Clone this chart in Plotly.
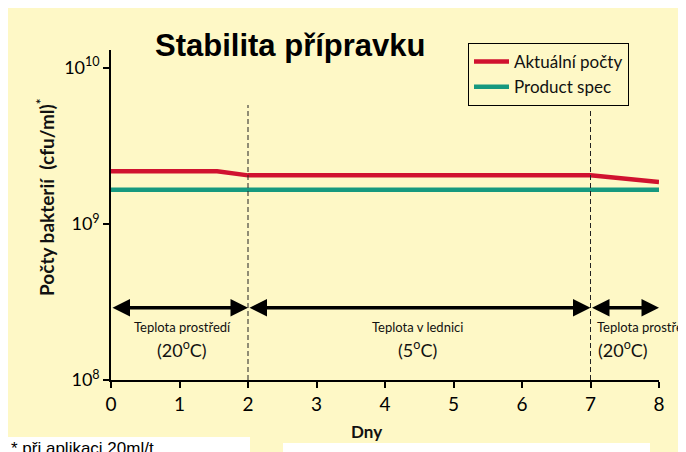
import plotly.graph_objects as go

# ---- data ----
days_actual = [0, 1.55, 2, 7, 8]
counts_actual = [2.17e9, 2.17e9, 2.04e9, 2.04e9, 1.85e9]
days_spec = [0, 8]
counts_spec = [1.65e9, 1.65e9]
x_ticks = [0, 1, 2, 3, 4, 5, 6, 7, 8]
y_tickvals = [1e8, 1e9, 1e10]
y_ticktext = ["10<sup>8</sup>", "10<sup>9</sup>", "10<sup>10</sup>"]
phase_bounds = [0, 2, 7, 8]
phase_names = ["Teplota prostředí", "Teplota v lednici", "Teplota prostředí"]
phase_temps = ["(20<sup>o</sup>C)", "(5<sup>o</sup>C)", "(20<sup>o</sup>C)"]

# page has an 8px body margin: figure occupies page pixels 8..686 x 8..452
OFF = 8
W, H = 686 - OFF, 452 - OFF
L, R, T, B = 111 - OFF, 27, 50 - OFF, 72
pw, ph = W - L - R, H - T - B

def px(xp):  # page pixel x -> paper fraction
    return (xp - OFF - L) / pw

def py(yp):  # page pixel y -> paper fraction
    return (H - B - (yp - OFF)) / ph

CREAM = "#FEF8C6"
RED = "#D0122F"
GREEN = "#16997F"
MYR = "Lato, 'Open Sans', sans-serif"

fig = go.Figure()
fig.add_trace(go.Scatter(x=days_actual, y=counts_actual, mode="lines",
                         name="Aktuální počty", line=dict(color=RED, width=4.5)))
fig.add_trace(go.Scatter(x=days_spec, y=counts_spec, mode="lines",
                         name="Product spec", line=dict(color=GREEN, width=4.5)))

shapes = [
    dict(type="rect", xref="paper", yref="paper", x0=px(0), x1=px(250),
         y0=py(437), y1=py(460), fillcolor="white", line_width=0, layer="below"),
    dict(type="rect", xref="paper", yref="paper", x0=px(283), x1=px(650),
         y0=py(443), y1=py(460), fillcolor="white", line_width=0, layer="below"),
]
for xb, top in [(phase_bounds[1], 105), (phase_bounds[2], 110)]:
    shapes.append(dict(type="line", xref="x", yref="paper", x0=xb, x1=xb,
                       y0=0, y1=py(top), line=dict(color="#222222", width=1, dash="5px,3px")))

annotations = []
arrow_y = 8.462
for i in range(3):
    annotations.append(dict(x=phase_bounds[i + 1], y=arrow_y, ax=phase_bounds[i], ay=arrow_y,
                            xref="x", yref="y", axref="x", ayref="y", text="",
                            showarrow=True, arrowhead=2, startarrowhead=2, arrowside="end+start",
                            arrowwidth=3.5, arrowsize=1, startarrowsize=1, arrowcolor="black",
                            standoff=0, startstandoff=0))
name_pos = [(182, "center"), (417, "center"), (595, "left")]
temp_pos = [182, 417, 623]
for i in range(3):
    xp, anc = name_pos[i]
    annotations.append(dict(x=px(xp), y=py(327), xref="paper", yref="paper", text=phase_names[i],
                            showarrow=False, xanchor=anc, yanchor="middle",
                            font=dict(family=MYR, size=13, color="#111111")))
    annotations.append(dict(x=px(temp_pos[i]), y=py(349), xref="paper", yref="paper",
                            text=phase_temps[i], showarrow=False, xanchor="center", yanchor="middle",
                            font=dict(family=MYR, size=18, color="#111111")))

annotations.append(dict(x=px(290), y=py(45), xref="paper", yref="paper",
                        text="<b>Stabilita přípravku</b>", showarrow=False,
                        xanchor="center", yanchor="middle",
                        font=dict(family="Liberation Sans, Arial", size=31, color="black")))
annotations.append(dict(x=px(45), y=py(198), xref="paper", yref="paper", textangle=-90,
                        text="<b>Počty bakterií  (cfu/ml)<sup>*</sup></b>", showarrow=False,
                        xanchor="center", yanchor="middle",
                        font=dict(family=MYR, size=19, color="#111111")))
annotations.append(dict(x=px(366), y=py(432), xref="paper", yref="paper",
                        text="<b>Dny</b>", showarrow=False, xanchor="center", yanchor="middle",
                        font=dict(family=MYR, size=17, color="#111111")))
annotations.append(dict(x=px(9), y=py(437), xref="paper", yref="paper",
                        text="* při aplikaci 20ml/t", showarrow=False, xanchor="left", yanchor="top",
                        font=dict(family="Liberation Sans, Arial", size=17, color="black")))

fig.update_layout(
    width=W, height=H,
    margin=dict(l=L, r=R, t=T, b=B, pad=0),
    paper_bgcolor=CREAM, plot_bgcolor="rgba(0,0,0,0)",
    shapes=shapes, annotations=annotations,
    showlegend=True,
    legend=dict(x=px(468), y=py(43), xanchor="left", yanchor="top",
                bgcolor=CREAM, bordercolor="black", borderwidth=1,
                font=dict(family=MYR, size=17, color="#111111"),
                itemwidth=35, tracegroupgap=4),
    xaxis=dict(range=[0, 8], tickvals=x_ticks, showgrid=False, zeroline=False,
               showline=True, linecolor="black", linewidth=1.5,
               ticks="outside", ticklen=6, tickcolor="black", tickwidth=1.5,
               tickfont=dict(family=MYR, size=19, color="black")),
    yaxis=dict(type="log", range=[8, 10.112], tickvals=y_tickvals, ticktext=y_ticktext,
               showgrid=False, zeroline=False, showline=True, linecolor="black", linewidth=1.5,
               ticks="outside", ticklen=6, tickcolor="black", tickwidth=1.5,
               tickfont=dict(family=MYR, size=18, color="black")),
)

fig.write_html("out.html")
